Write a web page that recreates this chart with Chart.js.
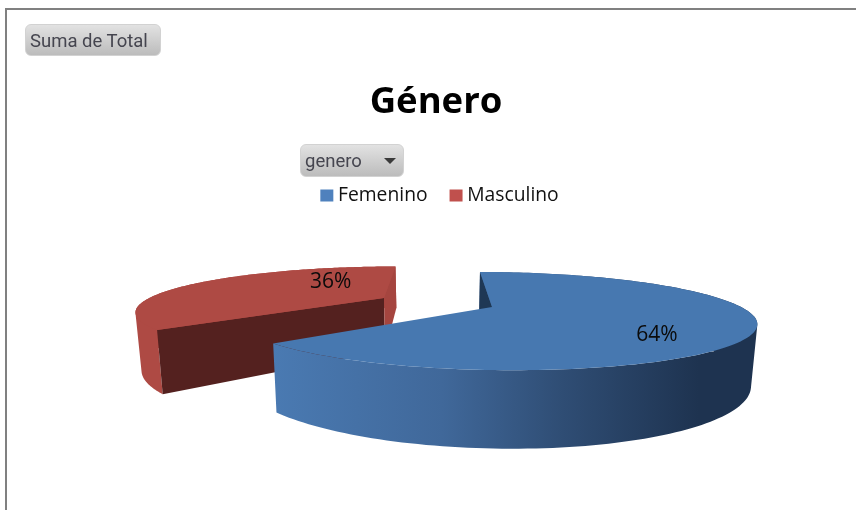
<!DOCTYPE html>
<html><head><meta charset="utf-8">
<script src="https://cdn.jsdelivr.net/npm/chart.js@4"></script>
<style>
html,body{margin:0;padding:0;background:#fff;overflow:hidden}
#wrap{position:relative;width:856px;height:510px;overflow:hidden;background:#fff}
#frame{position:absolute;left:5px;top:8px;width:860px;height:520px;border-left:2px solid #808080;border-top:2px solid #808080}
canvas{position:absolute;left:0;top:0}
.btn{position:absolute;box-sizing:border-box;border:1px solid #d2d2d2;border-radius:6px;background:linear-gradient(#e2e2e2,#bcbcbc);color:#45454f;font:18.5px Roboto,sans-serif;line-height:32px;white-space:nowrap}
#tri{position:absolute;left:83px;top:13px;width:0;height:0;border-left:6px solid transparent;border-right:6px solid transparent;border-top:6px solid #3a3a3a}
</style></head><body>
<div id="wrap">
<div id="frame"></div>
<canvas id="c" width="856" height="510"></canvas>
<div class="btn" style="left:25px;top:24px;width:136px;height:32px;padding-left:4px">Suma de Total</div>
<div class="btn" style="left:300px;top:144px;width:104px;height:33px;padding-left:4px">genero<span id="tri"></span></div>
</div>
<script>
const titleText = 'Género';
const categories = ['Femenino', 'Masculino'];
const values = [63.6, 36.4];
const legendColors = ['#4F81BD', '#C0504D'];

const topColors = ['#4778B0', '#AE4A44'];
const backCutColors = ['#1F3855', '#A5453F'];
const frontCutColor = '#54211F';
const explodeX = [0.217, -0.23];
const explodeY = [0, -0.212];
const labelTurn = [20, 33];
const labelRadius = [0.744, 0.525];

const VX = 438, HZ = 150, K = 157, A = 249, P = 0.287, DEPTH = 56, NARROW = 0.98;

function project(angle, r, i, low) {
  const X = r * Math.cos(angle) + explodeX[i];
  const Y = r * Math.sin(angle) + explodeY[i];
  const z = 1 - P * Y;
  const s = low ? NARROW : 1;
  return [VX + s * A * X / z, HZ + (K + (low ? DEPTH : 0)) / z];
}
function poly(ctx, pts, fill) {
  ctx.beginPath();
  pts.forEach((p, n) => n ? ctx.lineTo(p[0], p[1]) : ctx.moveTo(p[0], p[1]));
  ctx.closePath();
  ctx.fillStyle = fill;
  ctx.fill();
}
function arcPts(a0, a1, i, low) {
  const out = [], n = 160;
  for (let k = 0; k <= n; k++) out.push(project(a0 + (a1 - a0) * k / n, 1, i, low));
  return out;
}
function wall(ctx, top, low, fill) {
  ctx.beginPath();
  for (let k = 0; k < top.length - 1; k++) {
    let q = [top[k], top[k + 1], low[k + 1], low[k]];
    let area = 0;
    q.forEach((p, n) => { const r = q[(n + 1) % 4]; area += p[0] * r[1] - r[0] * p[1]; });
    if (area < 0) q = q.reverse();
    q.forEach((p, n) => n ? ctx.lineTo(p[0], p[1]) : ctx.moveTo(p[0], p[1]));
    ctx.closePath();
  }
  ctx.fillStyle = fill;
  ctx.fill('nonzero');
}
function wallFill(ctx, i) {
  if (i === 1) return '#AE4A44';
  const g = ctx.createLinearGradient(272, 0, 757, 0);
  g.addColorStop(0, '#4A7AB2');
  g.addColorStop(0.35, '#40689A');
  g.addColorStop(0.6, '#2F4D74');
  g.addColorStop(0.88, '#1E3350');
  g.addColorStop(1, '#1E3350');
  return g;
}
const pie3d = {
  id: 'pie3d',
  afterLayout(chart) {
    chart.legend.left += 6;
    chart.legend.right += 6;
  },
  beforeDatasetDraw(chart, args) {
    const ctx = chart.ctx, arcs = args.meta.data;
    ctx.save();
    [1, 0].forEach(i => {
      const a0 = arcs[i].startAngle, a1 = arcs[i].endAngle;
      const top = arcPts(a0, a1, i, false), low = arcPts(a0, a1, i, true);
      const tip = project(0, 0, i, false), tipLow = project(0, 0, i, true);
      wall(ctx, top, low, wallFill(ctx, i));
      const last = top.length - 1;
      if (i === 1) poly(ctx, [top[0], tip, tipLow, low[0]], frontCutColor);
      if (i === 1) poly(ctx, [top[last], tip, tipLow, low[last]], backCutColors[1]);
      if (i === 0) poly(ctx, [top[0], tip, tipLow, low[0]], backCutColors[0]);
      poly(ctx, [tip].concat(top), topColors[i]);
    });
    ctx.fillStyle = '#0b0b0b';
    ctx.font = '21px "Open Sans", sans-serif';
    ctx.textAlign = 'center';
    ctx.textBaseline = 'middle';
    const total = values.reduce((s, v) => s + v, 0);
    arcs.forEach((arc, i) => {
      const mid = (arc.startAngle + arc.endAngle) / 2 + labelTurn[i] * Math.PI / 180;
      const p = project(mid, labelRadius[i], i, false);
      ctx.fillText(Math.round(values[i] / total * 100) + '%', p[0], p[1]);
    });
    ctx.restore();
    return false;
  }
};
new Chart(document.getElementById('c'), {
  type: 'pie',
  data: { labels: categories, datasets: [{ data: values, backgroundColor: legendColors, borderWidth: 0 }] },
  plugins: [pie3d],
  options: {
    responsive: false,
    animation: false,
    events: [],
    layout: { padding: { left: 16, top: 0, right: 0, bottom: 0 } },
    plugins: {
      title: { display: true, text: titleText, color: '#000', font: { family: '"Open Sans", sans-serif', size: 36.5, weight: 'bold' }, padding: { top: 81, bottom: 34 } },
      legend: { display: true, position: 'top',
        labels: { boxWidth: 3, boxHeight: 2, padding: 27, color: '#111', font: { family: '"Open Sans", sans-serif', size: 19.3 },
          generateLabels: c => Chart.overrides.pie.plugins.legend.labels.generateLabels(c).map(l => ({ ...l, lineWidth: 10, strokeStyle: l.fillStyle })) } },
      tooltip: { enabled: false }
    }
  }
});
</script>
</body></html>
